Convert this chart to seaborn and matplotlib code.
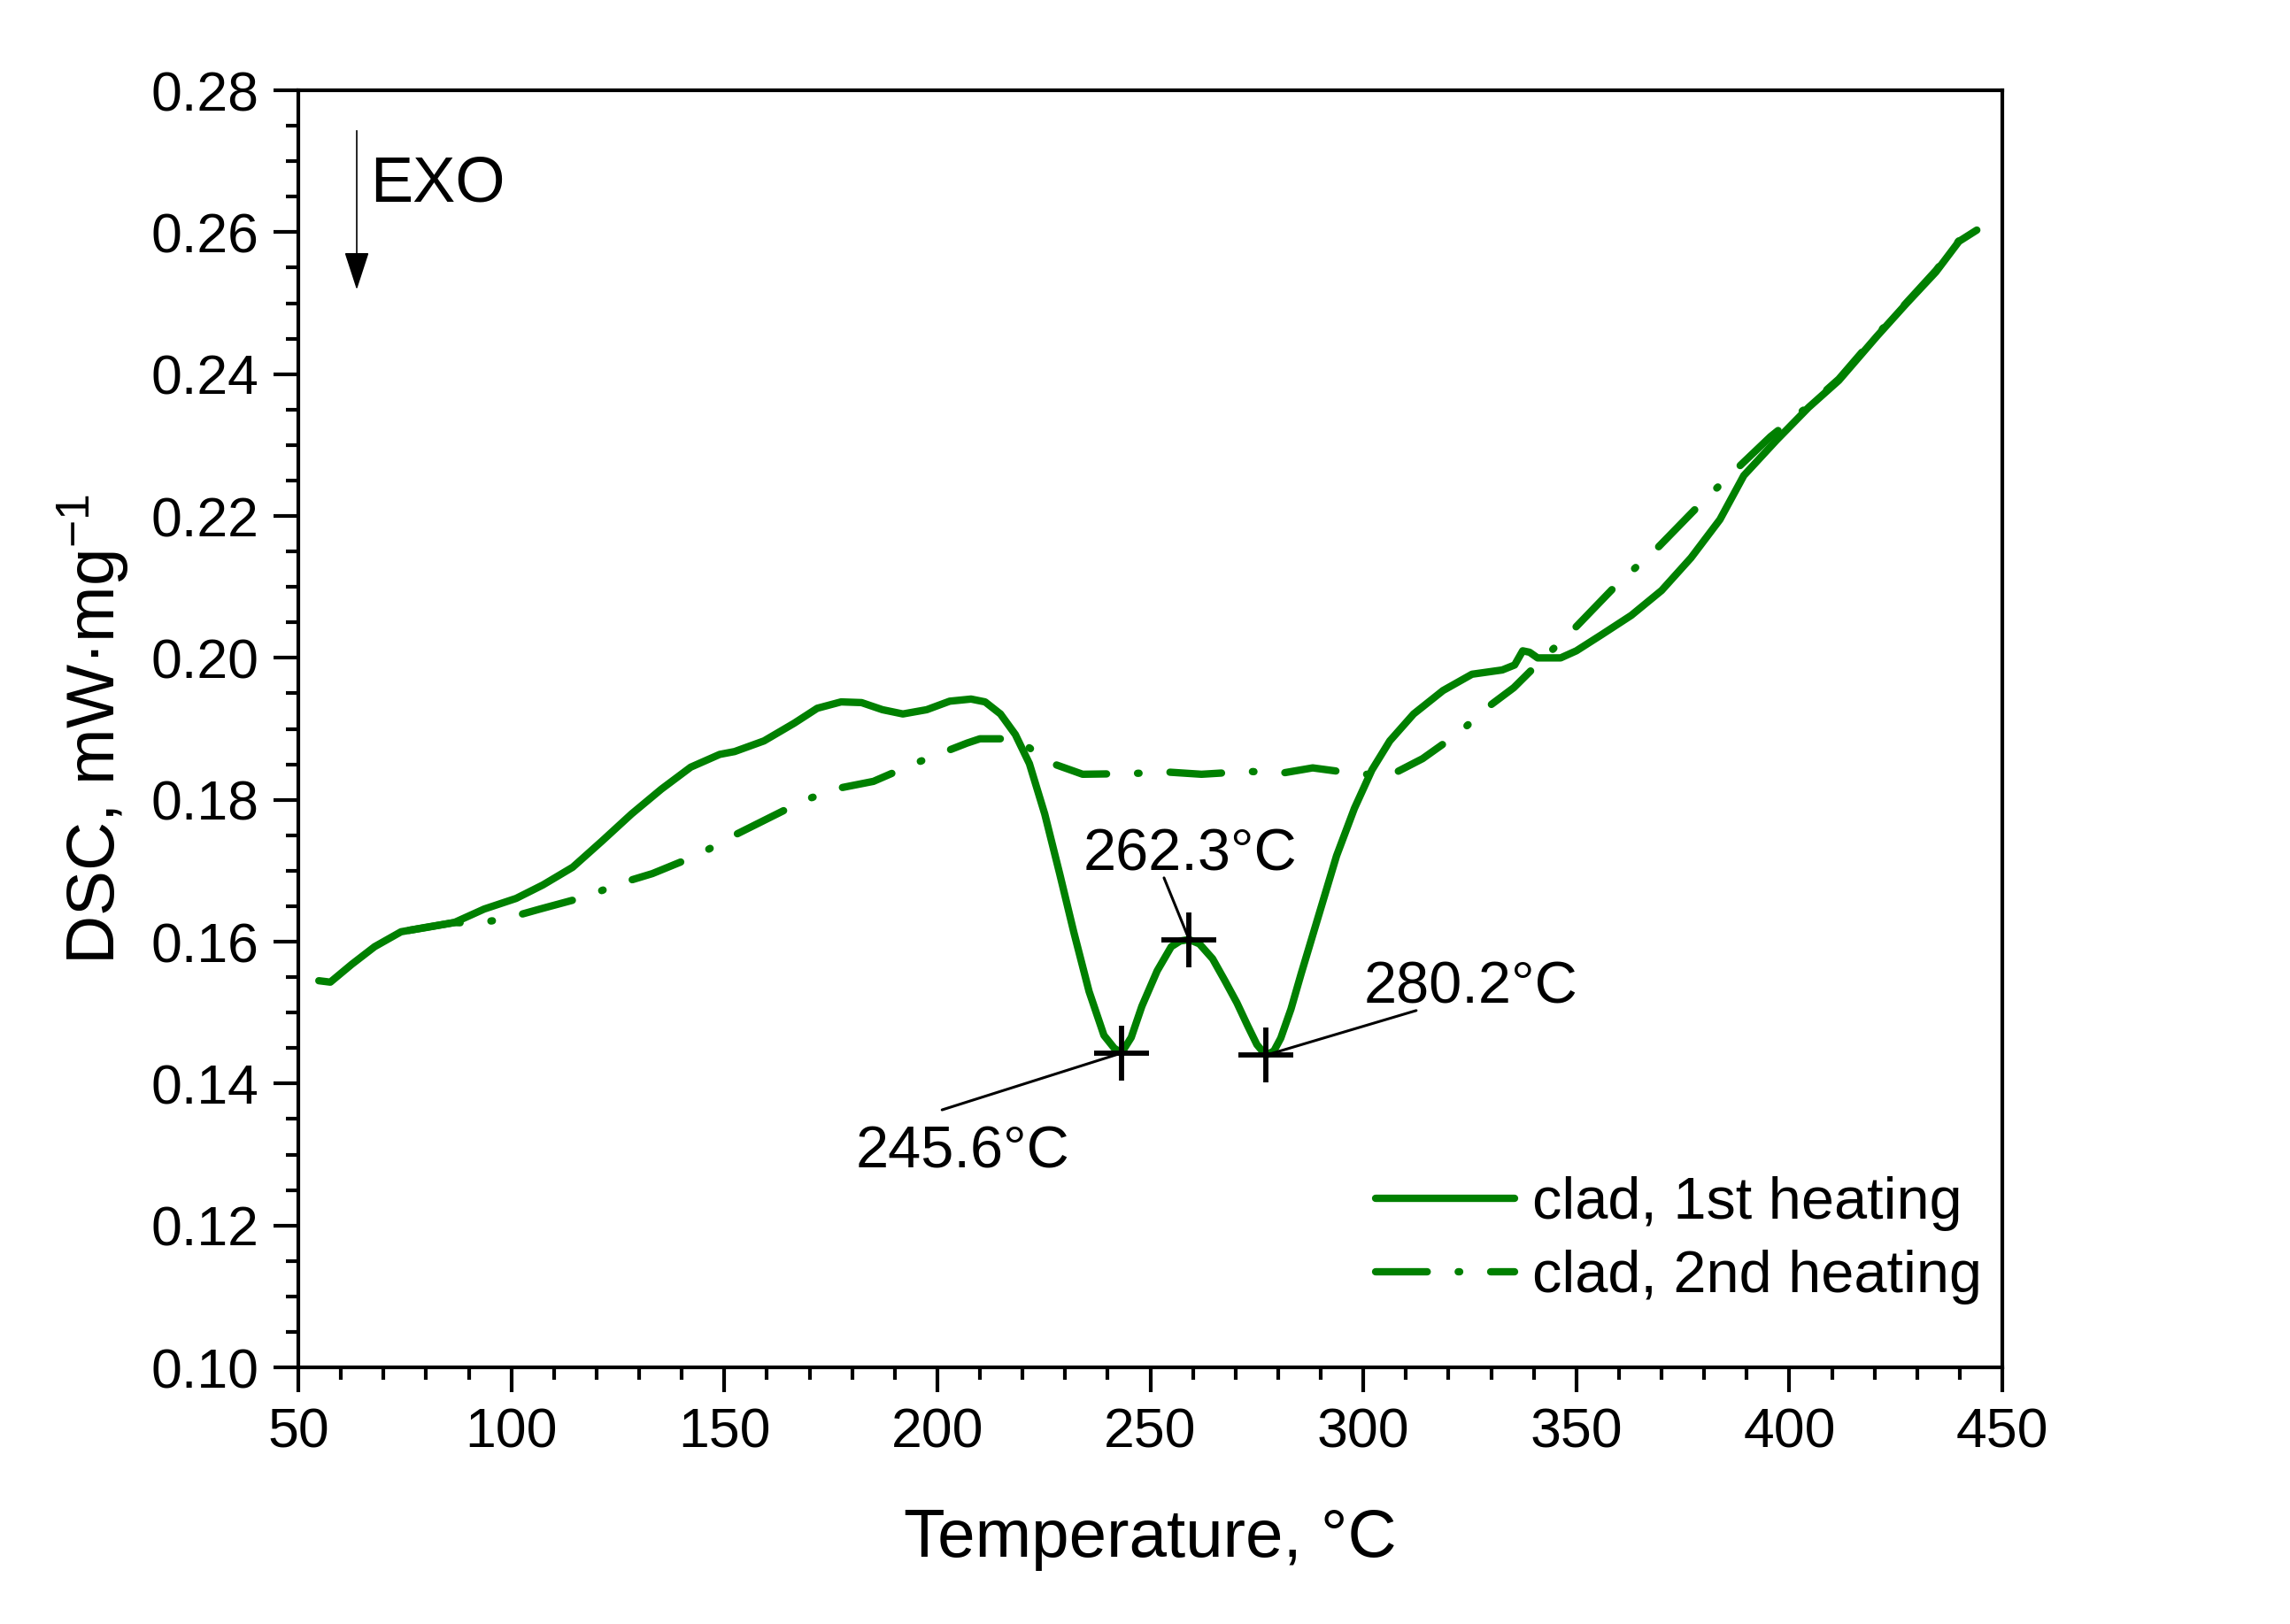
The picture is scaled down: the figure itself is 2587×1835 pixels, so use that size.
import matplotlib
matplotlib.use('Agg')
import matplotlib.pyplot as plt
import seaborn as sns
from matplotlib.ticker import MultipleLocator, FormatStrFormatter

# DSC curves (temperature in degC, DSC in mW/mg)
temp_1st = [54.8, 57.5, 62.5, 67.9, 74.1, 79.7, 86.6, 93.6, 101.1, 107.4,
            114.4, 121.3, 128.2, 135.2, 142.1, 148.9, 152.4, 159.3, 166.4, 171.8,
            177.4, 182.2, 187.1, 191.9, 197.5, 202.9, 207.9, 211.2, 214.8, 218.3,
            221.6, 225.2, 228.7, 232.0, 235.6, 239.1, 241.5, 243.2, 245.5, 248.0,
            251.6, 254.9, 257.0, 259.1, 261.5, 264.6, 267.5, 270.3, 272.8, 275.0,
            277.1, 279.0, 280.6, 283.0, 285.4, 289.6, 293.7, 297.9, 302.0, 306.2,
            311.8, 318.7, 325.5, 332.6, 335.5, 337.4, 339.0, 340.9, 346.3, 350.0,
            356.0, 362.9, 370.0, 376.9, 383.7, 389.3, 397.0, 404.5, 411.6, 420.5,
            427.4, 434.4, 439.8, 444.0]
dsc_1st = [0.1545, 0.1543, 0.1568, 0.1593, 0.1614, 0.1620, 0.1627, 0.1646, 0.1661, 0.1680,
           0.1705, 0.1742, 0.1780, 0.1815, 0.1846, 0.1864, 0.1868, 0.1883, 0.1908, 0.1929,
           0.1938, 0.1937, 0.1927, 0.1921, 0.1927, 0.1939, 0.1942, 0.1938, 0.1921, 0.1892,
           0.1851, 0.1780, 0.1696, 0.1614, 0.1530, 0.1468, 0.1450, 0.1443, 0.1465, 0.1509,
           0.1559, 0.1593, 0.1601, 0.1603, 0.1597, 0.1576, 0.1545, 0.1514, 0.1482, 0.1455,
           0.1440, 0.1446, 0.1464, 0.1505, 0.1555, 0.1639, 0.1721, 0.1788, 0.1842, 0.1883,
           0.1921, 0.1954, 0.1977, 0.1983, 0.1990, 0.2010, 0.2008, 0.2000, 0.2000, 0.2010,
           0.2033, 0.2060, 0.2095, 0.2141, 0.2195, 0.2257, 0.2307, 0.2353, 0.2391, 0.2453,
           0.2499, 0.2544, 0.2587, 0.2603]

temp_2nd = [76.0, 80.0, 86.6, 91.6, 98.4, 106.7, 117.8, 125.4, 133.1, 144.1,
            151.0, 158.0, 169.0, 177.4, 185.0, 194.6, 202.3, 207.0, 210.0, 216.2,
            220.0, 226.6, 234.1, 245.3, 254.3, 262.0, 273.0, 281.3, 288.1, 299.3,
            306.8, 313.9, 322.8, 328.4, 335.3, 341.5, 349.8, 359.6, 369.2, 379.6,
            389.3, 395.6, 404.5, 411.6, 420.5, 427.4, 434.4, 439.8, 444.0]
dsc_2nd = [0.1616, 0.1620, 0.1627, 0.1626, 0.1632, 0.1646, 0.1664, 0.1682, 0.1696, 0.1723,
           0.1746, 0.1767, 0.1800, 0.1817, 0.1826, 0.1851, 0.1869, 0.1880, 0.1886, 0.1886,
           0.1880, 0.1852, 0.1836, 0.1837, 0.1839, 0.1836, 0.1840, 0.1838, 0.1845, 0.1836,
           0.1836, 0.1858, 0.1896, 0.1927, 0.1958, 0.1995, 0.2043, 0.2104, 0.2156, 0.2220,
           0.2276, 0.2312, 0.2355, 0.2393, 0.2455, 0.2500, 0.2546, 0.2588, 0.2605]

# peak markers and their labels
peak_temp = [243.2, 259.1, 277.1]
peak_dsc = [0.1443, 0.1603, 0.1440]
peak_labels = ['245.6°C', '262.3°C', '280.2°C']

sns.set_style('ticks')
plt.rcParams['font.family'] = ['Liberation Sans', 'DejaVu Sans']
plt.rcParams['mathtext.default'] = 'regular'
plt.rcParams.update({'text.color': 'black', 'axes.labelcolor': 'black',
                     'xtick.color': 'black', 'ytick.color': 'black'})

green = '#008000'

fig = plt.figure(figsize=(12.935, 9.175), dpi=200)
ax = fig.add_axes([0.1303, 0.158, 0.7441, 0.7864])

sns.lineplot(x=temp_1st, y=dsc_1st, color=green, lw=3.0, sort=False,
             label='clad, 1st heating', ax=ax, legend=False)
sns.lineplot(x=temp_2nd, y=dsc_2nd, color=green, lw=3.0, sort=False,
             linestyle=(0, (7, 4.2, 0.2, 4.2)),
             label='clad, 2nd heating', ax=ax, legend=False)
for line in ax.lines:
    line.set_dash_capstyle('round')
    line.set_solid_capstyle('round')
    line.set_solid_joinstyle('round')

ax.plot(peak_temp, peak_dsc, linestyle='none', marker='+', ms=22, mew=2.1, color='black')

# leader lines and labels
label_pos = [(180.9, 0.1281, 'left'), (259.3, 0.1701, 'center'), (300.0, 0.1514, 'left')]
line_start = [(201.1, 0.1363), (253.2, 0.1690), (312.4, 0.1503)]
for (px, py), lab, (tx, ty, ha), (lx, ly) in zip(zip(peak_temp, peak_dsc), peak_labels,
                                                 label_pos, line_start):
    ax.annotate('', xy=(px, py), xytext=(lx, ly),
                arrowprops=dict(arrowstyle='-', lw=1.1, color='black',
                                shrinkA=0, shrinkB=0))
    ax.text(tx, ty, lab, fontsize=24, ha=ha, va='baseline')

# EXO arrow
ax.annotate('', xy=(63.7, 0.2519), xytext=(63.7, 0.2743),
            arrowprops=dict(arrowstyle='-|>,head_length=0.4,head_width=0.13',
                            mutation_scale=34, lw=0.6, color='black',
                            shrinkA=0, shrinkB=0))
ax.text(66.8, 0.2644, 'EXO', fontsize=26, va='baseline')

ax.set_xlim(50, 450)
ax.set_ylim(0.10, 0.28)
ax.xaxis.set_major_locator(MultipleLocator(50))
ax.xaxis.set_minor_locator(MultipleLocator(10))
ax.yaxis.set_major_locator(MultipleLocator(0.02))
ax.yaxis.set_minor_locator(MultipleLocator(0.005))
ax.yaxis.set_major_formatter(FormatStrFormatter('%.2f'))

ax.tick_params(which='both', direction='out', top=False, right=False,
               width=1.5, color='black')
ax.tick_params(which='major', length=10, labelsize=22.5, pad=6)
ax.tick_params(which='minor', length=5)
for sp in ax.spines.values():
    sp.set_linewidth(1.5)
    sp.set_color('black')

ax.set_xlabel('Temperature, °C', fontsize=27.5, labelpad=20)
ax.set_ylabel('DSC, mW·mg$^{-1}$', fontsize=27.5, labelpad=8)

ax.legend(handles=ax.lines[:2], labels=['clad, 1st heating', 'clad, 2nd heating'],
          loc='lower right', bbox_to_anchor=(0.988, 0.049), frameon=False,
          fontsize=24, handlelength=2.35, handletextpad=0.3, labelspacing=0.32,
          borderpad=0, borderaxespad=0)

fig.savefig('out.png', dpi=200, facecolor='white')
